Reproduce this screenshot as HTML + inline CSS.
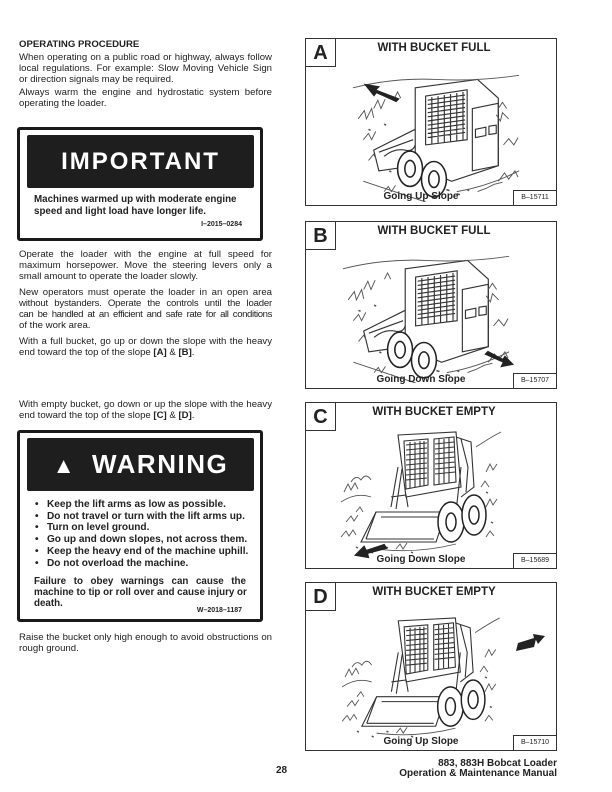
<!DOCTYPE html>
<html><head><meta charset="utf-8"><style>
*{margin:0;padding:0;box-sizing:border-box}
body{width:612px;height:792px;background:#fff;position:relative;font-family:"Liberation Sans",Arial,sans-serif;color:#222;overflow:hidden}
.t{position:absolute;font-size:9.6px;line-height:11px;text-align:justify;width:253px;left:19px}
.t span{display:block;text-align-last:justify;white-space:nowrap}
.t span.l{text-align-last:left}
.h{position:absolute;font-weight:bold;font-size:9.6px}
.box{position:absolute;left:17px;width:246px;border:3px solid #1a1a1a;border-radius:3px;background:#fff}
.blk{position:absolute;left:7px;right:6px;background:#1e1e1e;color:#fff;font-weight:bold;text-align:center;border-radius:2px}
.bt{position:absolute;left:14px;right:14px;font-weight:bold;font-size:9.8px;line-height:11.5px}
.bt span{display:block;white-space:nowrap}
.code{position:absolute;right:18px;font-weight:bold;font-size:7px}
.p{position:absolute;left:305px;width:252px;border:1px solid #333}
.lt{position:absolute;left:0;top:0;width:30px;height:28px;border-right:1px solid #333;border-bottom:1px solid #333;font-weight:bold;font-size:20px;text-align:center;line-height:28px}
.ti{position:absolute;left:30px;right:24px;top:3px;text-align:center;font-weight:bold;font-size:11.5px}
.cap{position:absolute;left:40px;right:60px;bottom:3px;text-align:center;font-weight:bold;font-size:10px}
.bn{position:absolute;right:0;bottom:0;width:43px;height:15px;border-left:1px solid #333;border-top:1px solid #333;font-size:7px;text-align:center;line-height:14px}
.p svg{position:absolute;left:0;top:0}
</style></head><body>
<div class="h" style="left:19px;top:39px">OPERATING PROCEDURE</div>
<div class="t" style="top:52px"><span>When operating on a public road or highway, always follow</span><span>local regulations. For example: Slow Moving Vehicle Sign</span><span class="l">or direction signals may be required.</span></div>
<div class="t" style="top:87px"><span>Always warm the engine and hydrostatic system before</span><span class="l">operating the loader.</span></div>

<div class="box" style="top:127px;height:114px">
 <div class="blk" style="top:5px;height:53px;font-size:24px;line-height:53px;letter-spacing:2px">IMPORTANT</div>
 <div class="bt" style="top:64px"><span>Machines warmed up with moderate engine</span><span>speed and light load have longer life.</span></div>
 <div class="code" style="top:91px">I–2015–0284</div>
</div>

<div class="t" style="top:249px"><span>Operate the loader with the engine at full speed for</span><span>maximum horsepower. Move the steering levers only a</span><span class="l">small amount to operate the loader slowly.</span></div>
<div class="t" style="top:287px"><span>New operators must operate the loader in an open area</span><span style="letter-spacing:-0.2px">without bystanders. Operate the controls until the loader</span><span style="letter-spacing:-0.4px">can be handled at an efficient and safe rate for all conditions</span><span class="l">of the work area.</span></div>
<div class="t" style="top:336px"><span>With a full bucket, go up or down the slope with the heavy</span><span class="l">end toward the top of the slope <b>[A]</b> &amp; <b>[B]</b>.</span></div>
<div class="t" style="top:399px"><span>With empty bucket, go down or up the slope with the heavy</span><span class="l">end toward the top of the slope <b>[C]</b> &amp; <b>[D]</b>.</span></div>

<div class="box" style="top:430px;height:192px">
 <div class="blk" style="top:5px;height:53px;font-size:26px;line-height:53px;letter-spacing:1.5px"><span style="font-size:22px;margin-right:16px">▲</span>WARNING</div>
 <div class="bt" style="top:66px;line-height:11.7px;left:15px;font-size:10.1px">
  <span>•&nbsp;&nbsp; Keep the lift arms as low as possible.</span>
  <span>•&nbsp;&nbsp; Do not travel or turn with the lift arms up.</span>
  <span>•&nbsp;&nbsp; Turn on level ground.</span>
  <span>•&nbsp;&nbsp; Go up and down slopes, not across them.</span>
  <span>•&nbsp;&nbsp; Keep the heavy end of the machine uphill.</span>
  <span>•&nbsp;&nbsp; Do not overload the machine.</span>
 </div>
 <div class="bt" style="top:143px;line-height:11px;text-align:justify"><span style="text-align-last:justify">Failure to obey warnings can cause the</span><span style="text-align-last:justify">machine to tip or roll over and cause injury or</span><span>death.</span></div>
 <div class="code" style="top:174px">W–2018–1187</div>
</div>
<div class="t" style="top:632px"><span>Raise the bucket only high enough to avoid obstructions on</span><span class="l">rough ground.</span></div>

<svg width="0" height="0" style="position:absolute">
<defs>
<symbol id="rear" viewBox="0 0 160 130">
 <g fill="none" stroke="#333" stroke-width="1.1">
 <path d="M60 20 L120 12 L140 30 L140 95 L95 110 L60 95 Z"/>
 <path d="M70 28 L110 22 L110 70 L70 75 Z"/>
 <path d="M72 32 L108 27 M72 36 L108 31 M72 40 L108 35 M72 44 L108 39 M72 48 L108 43 M72 52 L108 47 M72 56 L108 51 M72 60 L108 55 M72 64 L108 59 M72 68 L108 63 M76 29 L76 74 M82 28 L82 73 M88 27 L88 73 M94 26 L94 72 M100 25 L100 71 M106 24 L106 70"/>
 <path d="M115 40 L140 35 L140 95 L115 100 Z"/>
 <path d="M118 60 L128 58 L128 66 L118 68 Z M131 57 L138 56 L138 64 L131 65 Z"/>
 <path d="M60 60 L20 80 L25 100 L60 95 M25 82 L58 70 M30 86 q10 -8 20 -6 q8 2 10 -5"/>
 </g>
 <g fill="#fff" stroke="#222" stroke-width="1.5">
 <ellipse cx="55" cy="98" rx="12" ry="17"/><ellipse cx="55" cy="98" rx="5" ry="8"/>
 <ellipse cx="78" cy="108" rx="12" ry="17"/><ellipse cx="78" cy="108" rx="5" ry="8"/>
 </g>
 <g fill="none" stroke="#555" stroke-width=".9">
 <path d="M0 20 Q40 10 80 12 T160 8 M5 50 l6 -8 l2 8 l5 -10 l2 9 M150 50 l-6 -6 l-2 8 l-4 -6 M140 110 l6 -8 l4 6 l6 -8 l3 6 M10 110 q30 10 60 20 M100 120 q30 -5 60 -20 M20 40 l4 -8 l3 8 l4 -9 M145 75 l5 -6 l5 6 l4 -7 M10 70 l5 -6 l3 6 l4 -8 M15 90 l5 -6 l3 6 M120 120 l8 -3 l8 -4 l8 -2 M30 120 l4 -5 l3 5 l4 -6 M40 30 l3 -6 l3 6 M140 40 l4 -6 l4 6"/>
 <path d="M90 118 l3 1 M100 122 l3 1 M110 118 l2 1 M15 60 l2 1 M30 55 l2 1 M35 100 l2 1" stroke-width="1.5"/>
 </g>
</symbol>
<symbol id="front" viewBox="0 0 160 130">
 <g fill="none" stroke="#333" stroke-width="1.1">
 <path d="M62 8 L120 5 L125 60 L70 70 Z"/>
 <path d="M68 14 L92 12 L92 58 L70 62 Z M98 12 L118 10 L120 55 L98 58 Z"/>
 <path d="M70 18 L91 16 M70 23 L91 21 M70 28 L91 26 M70 33 L91 31 M70 38 L91 36 M70 43 L91 41 M70 48 L91 46 M70 53 L91 51 M99 17 L118 15 M99 22 L118 20 M99 27 L118 25 M99 32 L119 30 M99 37 L119 35 M99 42 L119 40 M99 47 L119 45 M74 15 L74 61 M79 15 L79 60 M84 14 L84 60 M88 14 L88 59 M103 12 L103 57 M108 12 L108 56 M113 11 L113 56"/>
 <path d="M120 10 L135 15 L138 60 L125 70 M125 12 L132 40 L130 65"/>
 <path d="M62 40 L55 80 M66 42 L60 82 M125 40 L120 85 M55 70 L70 68 L72 80"/>
 <path d="M40 85 L110 85 L100 115 L25 115 Z"/>
 <path d="M45 90 L105 90 M30 112 L98 112 M40 85 L30 112"/>
 </g>
 <g fill="#fff" stroke="#222" stroke-width="1.5">
 <ellipse cx="115" cy="95" rx="13" ry="20"/><ellipse cx="115" cy="95" rx="5" ry="9"/>
 <ellipse cx="138" cy="88" rx="12" ry="20"/><ellipse cx="138" cy="88" rx="5" ry="9"/>
 </g>
 <g fill="none" stroke="#555" stroke-width=".9">
 <path d="M5 75 q15 -10 30 -5 M8 65 l4 -8 l3 6 l4 -7 l3 6 M140 20 q15 -10 25 -15 M150 45 l4 -8 l3 6 l4 -6 M5 110 l5 -6 l3 5 l4 -6 l3 5 M10 95 l5 -6 l3 5 l4 -6 M150 80 l4 -8 l3 6 l4 -6 M40 122 q40 5 80 -5 M15 55 q5 -8 10 -2 q5 -8 10 0 M145 60 l4 -6 l4 6 M150 110 l4 -6 l4 5 M20 85 l4 -5 l3 5 M60 122 l4 -5 l3 5 l4 -6"/>
 <path d="M20 120 l2 1 M35 125 l2 1 M50 120 l2 1 M75 125 l2 1 M150 65 l2 1 M155 95 l2 1" stroke-width="1.5"/>
 </g>
</symbol>
</defs></svg>

<div class="p" style="top:38px;height:168px"><div class="lt">A</div><div class="ti">WITH BUCKET FULL</div>
<svg width="252" height="168"><use href="#rear" x="45" y="28" width="170" height="135"/><path d="M90 62 L68 52 L72 48 L60 46 L68 56 L71 52 L92 60 Z" fill="#222" stroke="#222" stroke-width="2"/></svg>
<div class="cap">Going Up Slope</div><div class="bn">B–15711</div></div>

<div class="p" style="top:221px;height:168px"><div class="lt">B</div><div class="ti">WITH BUCKET FULL</div>
<svg width="252" height="168"><use href="#rear" x="35" y="26" width="170" height="135"/><path d="M180 132 L198 140 L196 144 L206 142 L199 135 L197 138 L182 130 Z" fill="#222" stroke="#222" stroke-width="2"/></svg>
<div class="cap">Going Down Slope</div><div class="bn">B–15707</div></div>

<div class="p" style="top:402px;height:167px"><div class="lt">C</div><div class="ti">WITH BUCKET EMPTY</div>
<svg width="252" height="167"><use href="#front" x="15" y="24" width="190" height="130"/><path d="M78 142 L60 148 L58 144 L50 152 L62 154 L61 150 L80 145 Z" fill="#222" stroke="#222" stroke-width="2"/></svg>
<div class="cap">Going Down Slope</div><div class="bn">B–15689</div></div>

<div class="p" style="top:582px;height:169px"><div class="lt">D</div><div class="ti">WITH BUCKET EMPTY</div>
<svg width="252" height="169"><use href="#front" x="15" y="30" width="190" height="128"/><path d="M215 62 L230 57 L232 61 L239 53 L227 51 L228 55 L212 60 Z M212 60 L210 68 L228 64 L230 56 Z" fill="#222"/></svg>
<div class="cap">Going Up Slope</div><div class="bn">B–15710</div></div>

<div style="position:absolute;left:276px;top:765px;font-weight:bold;font-size:10px">28</div>
<div style="position:absolute;right:55px;top:759px;font-weight:bold;font-size:10px;line-height:10px;text-align:right">883, 883H Bobcat Loader<br>Operation &amp; Maintenance Manual</div>
</body></html>
